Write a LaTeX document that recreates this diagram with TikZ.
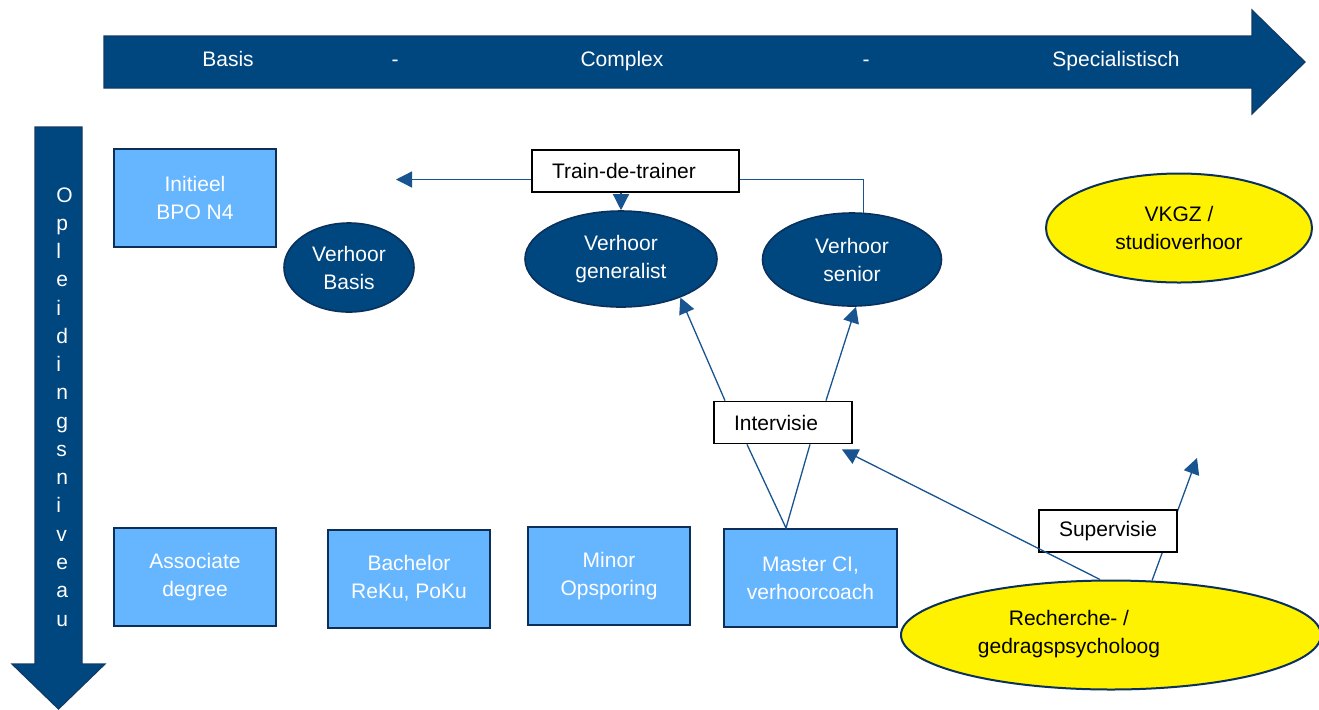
\documentclass[tikz,border=0pt]{standalone}
\usepackage{fontspec}
\setmainfont{Liberation Sans}
\usetikzlibrary{shapes.geometric, arrows.meta}

\definecolor{navyfill}{RGB}{0,70,127}
\definecolor{arrowedge}{RGB}{18,58,102}
\definecolor{elledge}{RGB}{10,48,92}
\definecolor{boxblue}{RGB}{102,181,255}
\definecolor{boxedge}{RGB}{12,46,89}
\definecolor{connblue}{RGB}{24,84,143}

\begin{document}
\begin{tikzpicture}[x=0.5pt, y=-0.5pt,
    txt/.style={font=\fontsize{10.5pt}{14pt}\selectfont, align=center, inner sep=0pt},
    bartext/.style={txt, text=white},
    opbox/.style={txt, text=white, draw=boxedge, line width=1pt, fill=boxblue, minimum width=81pt, minimum height=49pt},
    vhell/.style={txt, ellipse, text=white, draw=elledge, line width=0.8pt, fill=navyfill},
    geelell/.style={txt, ellipse, draw=elledge, line width=1pt, fill=yellow},
    labelbox/.style={txt, draw=black, line width=0.9pt, fill=white, align=left, inner xsep=10pt, minimum height=21pt},
    line/.style={draw=connblue, line width=0.65pt},
    conn/.style={line, -{Triangle[length=8pt, width=8pt]}}]

    \useasboundingbox (0,0) rectangle (1319,709);

    \filldraw [fill=navyfill, draw=arrowedge, line width=0.6pt] (104,36) -- (1252,36) -- (1252,10) -- (1305,62) -- (1252,114) -- (1252,88) -- (104,88) -- cycle;
    \node[bartext, anchor=base] (tbasis) at (228,66.5) {Basis};
    \node[bartext, anchor=base] (tdash1) at (395,66.5) {-};
    \node[bartext, anchor=base] (tcomplex) at (622,66.5) {Complex};
    \node[bartext, anchor=base] (tdash2) at (866,66.5) {-};
    \node[bartext, anchor=base] (tspec) at (1116,66.5) {Specialistisch};

    \filldraw [fill=navyfill, draw=arrowedge, line width=0.6pt] (35,127) -- (82,127) -- (82,664) -- (105,664) -- (58.5,709) -- (12,664) -- (35,664) -- cycle;
    \foreach \letter [count=\i from 0] in {O,p,l,e,i,d,i,n,g,s,n,i,v,e,a,u}
        \node[bartext, anchor=base west] (niv\i) at (56,202+28.27*\i) {\letter};

    \node[opbox] (init) at (195,198) {Initieel\\BPO N4};
    \node[opbox] (assoc) at (195,577) {Associate\\degree};
    \node[opbox] (bach) at (409,578.5) {Bachelor\\ReKu, PoKu};
    \node[opbox] (minor) at (609,576) {Minor\\Opsporing};
    \node[opbox, minimum width=86.5pt] (master) at (810.5,578) {Master CI,\\verhoorcoach};

    \node[vhell, minimum width=65pt, minimum height=44.5pt] (vbasis) at (349,267.5) {Verhoor\\Basis};
    \node[vhell, minimum width=96pt, minimum height=48pt] (vgen) at (621,259) {Verhoor\\generalist};
    \node[vhell, minimum width=89.5pt, minimum height=46.5pt] (vsenior) at (852,259.5) {Verhoor\\senior};

    \node[geelell, minimum width=133pt, minimum height=54.5pt] (vkgz) at (1179,228) {VKGZ /\\studioverhoor};
    \node[geelell, minimum width=210pt, minimum height=54.5pt] (rech) at (1111,635) {};
    \node[txt] (rechtxt) at (1069,634) {Recherche- /\\gedragspsycholoog};

    \node[labelbox, text width=83.5pt] (train) at (635.5,171) {Train-de-trainer};
    \node[labelbox, text width=49pt] (inter) at (783,422.5) {Intervisie};

    \coordinate (tl) at (396,179.5);
    \coordinate (supend) at (1197,458);

    \draw[conn] (train.west |- tl) -- (tl);
    \draw[line] (train.east |- tl) -| (vsenior.76);
    \draw[conn] (vgen.north |- train.south) -- (vgen.north);

    \draw[conn] ([xshift=-29pt]inter.north) -- (vgen.-33);
    \draw[conn] ([xshift=21.5pt]inter.north) -- ([xshift=2pt]vsenior.south);
    \draw[line] ([xshift=-18pt]inter.south) -- ([xshift=-12.25pt]master.north) -- ([xshift=13.5pt]inter.south);

    \draw[conn] (rech.53) -- (supend);
    \node[labelbox, text width=49pt] (superv) at (1108,531) {Supervisie};
    \draw[conn] ([xshift=-5.5pt]rech.north) -- ([xshift=-5.5pt,yshift=-2.5pt]inter.south east);

\end{tikzpicture}
\end{document}
